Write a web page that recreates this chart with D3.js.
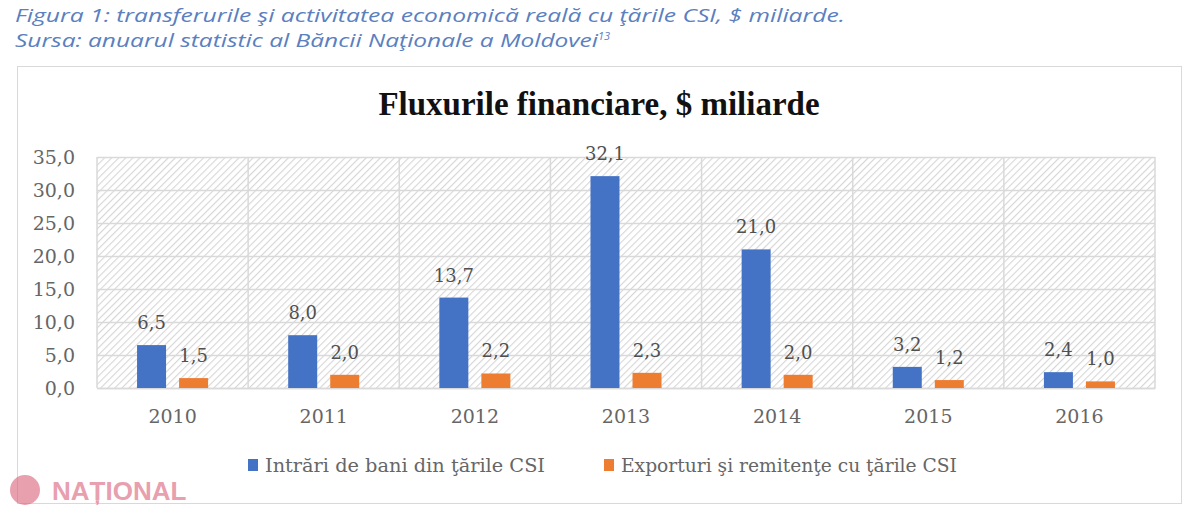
<!DOCTYPE html>
<html>
<head>
<meta charset="utf-8">
<script src="https://cdn.jsdelivr.net/npm/d3@7"></script>
<style>
  body { margin: 0; background: #fff; }
  svg { display: block; }
</style>
</head>
<body>
<svg id="chart" width="1200" height="513"></svg>
<script>
// data
var years = ["2010", "2011", "2012", "2013", "2014", "2015", "2016"];
var intrari = [6.5, 8.0, 13.7, 32.1, 21.0, 3.2, 2.4];
var exporturi = [1.5, 2.0, 2.2, 2.3, 2.0, 1.2, 1.0];
var seriesNames = ["Intrări de bani din ţările CSI", "Exporturi şi remitenţe cu ţările CSI"];
var seriesColors = ["#4472C4", "#ED7D31"];
var yTicks = [0, 5, 10, 15, 20, 25, 30, 35];

var svg = d3.select("#chart");
var serif = "'DejaVu Serif', 'Liberation Serif', serif";
var fmt = d3.formatLocale({decimal: ",", thousands: " ", grouping: [3], currency: ["", ""]}).format(".1f");

// header text above the chart box
var head = svg.append("g")
    .attr("font-family", "'Open Sans', Lato, sans-serif")
    .attr("font-style", "italic")
    .attr("fill", "#5a80c0")
    .attr("font-size", 18);
head.append("text").attr("x", 15).attr("y", 22)
    .attr("textLength", 830).attr("lengthAdjust", "spacingAndGlyphs")
    .text("Figura 1: transferurile şi activitatea economică reală cu ţările CSI, $ miliarde.");
var sursa = head.append("text").attr("x", 15).attr("y", 47);
sursa.append("tspan")
    .attr("textLength", 583).attr("lengthAdjust", "spacingAndGlyphs")
    .text("Sursa: anuarul statistic al Băncii Naţionale a Moldovei");
sursa.append("tspan").attr("font-size", 11).attr("dy", -7).text("13");

// chart box
svg.append("rect")
    .attr("x", 17.5).attr("y", 66.5)
    .attr("width", 1164).attr("height", 437)
    .attr("fill", "#fff")
    .attr("stroke", "#d9d9d9");

svg.append("text")
    .attr("x", 599).attr("y", 115)
    .attr("text-anchor", "middle")
    .attr("font-family", "'Liberation Serif', serif")
    .attr("font-weight", "bold")
    .attr("font-size", 33)
    .attr("fill", "#111")
    .text("Fluxurile financiare, $ miliarde");

var plot = {left: 97, right: 1155, top: 157, bottom: 388};

var x = d3.scaleBand()
    .domain(years)
    .range([plot.left, plot.right])
    .padding(0);
var bw = x.bandwidth();
var x1 = d3.scaleBand()
    .domain([0, 1])
    .range([bw * 0.265, bw * 0.735])
    .paddingInner(0.31);
var y = d3.scaleLinear()
    .domain([0, 35])
    .range([plot.bottom, plot.top]);

// hatched plot background
var defs = svg.append("defs");
var pat = defs.append("pattern")
    .attr("id", "hatch")
    .attr("patternUnits", "userSpaceOnUse")
    .attr("width", 5).attr("height", 5)
    .attr("patternTransform", "rotate(-45)");
pat.append("rect").attr("width", 5).attr("height", 5).attr("fill", "#fff");
pat.append("line")
    .attr("x1", 0).attr("y1", 0).attr("x2", 5).attr("y2", 0)
    .attr("stroke", "#d6d6d6").attr("stroke-width", 2.2);

svg.append("rect")
    .attr("x", plot.left).attr("y", plot.top)
    .attr("width", plot.right - plot.left)
    .attr("height", plot.bottom - plot.top)
    .attr("fill", "url(#hatch)");

// gridlines
svg.append("g")
    .selectAll("line")
    .data(yTicks)
    .enter().append("line")
    .attr("x1", plot.left).attr("x2", plot.right)
    .attr("y1", function(d) { return Math.round(y(d)) + 0.5; })
    .attr("y2", function(d) { return Math.round(y(d)) + 0.5; })
    .attr("stroke", "#d9d9d9").attr("stroke-width", 1.5);
svg.append("g")
    .selectAll("line")
    .data(years.concat(["end"]))
    .enter().append("line")
    .attr("x1", function(d) { return d === "end" ? plot.right : x(d); })
    .attr("x2", function(d) { return d === "end" ? plot.right : x(d); })
    .attr("y1", plot.top).attr("y2", plot.bottom)
    .attr("stroke", "#d9d9d9").attr("stroke-width", 1.5);

// y axis labels
var yAxis = svg.append("g")
    .attr("transform", "translate(" + (plot.left) + ",0)")
    .call(d3.axisLeft(y).tickValues(yTicks).tickSize(0).tickPadding(22).tickFormat(fmt));
yAxis.select(".domain").remove();
yAxis.selectAll("text")
    .attr("font-family", serif).attr("font-size", 19).attr("fill", "#666");

// x axis labels
var xAxis = svg.append("g")
    .attr("transform", "translate(0," + plot.bottom + ")")
    .call(d3.axisBottom(x).tickSize(0).tickPadding(22));
xAxis.select(".domain")
    .attr("stroke", "#d9d9d9").attr("stroke-width", 1.5);
xAxis.selectAll("text")
    .attr("font-family", serif).attr("font-size", 19).attr("fill", "#666");

// bars
var series = [intrari, exporturi];
series.forEach(function(vals, si) {
    var g = svg.append("g");
    g.selectAll("rect")
        .data(vals)
        .enter().append("rect")
        .attr("x", function(d, i) { return x(years[i]) + x1(si); })
        .attr("y", function(d) { return y(d); })
        .attr("width", x1.bandwidth())
        .attr("height", function(d) { return plot.bottom - y(d); })
        .attr("fill", seriesColors[si]);
    g.selectAll("text")
        .data(vals)
        .enter().append("text")
        .attr("x", function(d, i) { return x(years[i]) + x1(si) + x1.bandwidth() / 2; })
        .attr("y", function(d) { return y(d) - 16; })
        .attr("text-anchor", "middle")
        .attr("font-family", serif).attr("font-size", 18).attr("fill", "#505050")
        .text(fmt);
});

// legend
var legendX = [248, 604];
var legendW = [280, 336];
var leg = svg.append("g");
seriesNames.forEach(function(name, i) {
    leg.append("rect")
        .attr("x", legendX[i]).attr("y", 459)
        .attr("width", 10).attr("height", 12)
        .attr("fill", seriesColors[i]);
    leg.append("text")
        .attr("x", legendX[i] + 17).attr("y", 472)
        .attr("font-family", serif).attr("font-size", 18).attr("fill", "#666")
        .attr("textLength", legendW[i]).attr("lengthAdjust", "spacingAndGlyphs")
        .text(name);
});

// site watermark
var wm = svg.append("g").attr("opacity", 0.6);
wm.append("circle").attr("cx", 25).attr("cy", 490).attr("r", 15).attr("fill", "#d9607a");
wm.append("text")
    .attr("x", 52).attr("y", 500)
    .attr("font-family", "'Liberation Sans', sans-serif")
    .attr("font-weight", "bold").attr("font-size", 26)
    .attr("fill", "#d9607a")
    .text("NAȚIONAL");
</script>
</body>
</html>
